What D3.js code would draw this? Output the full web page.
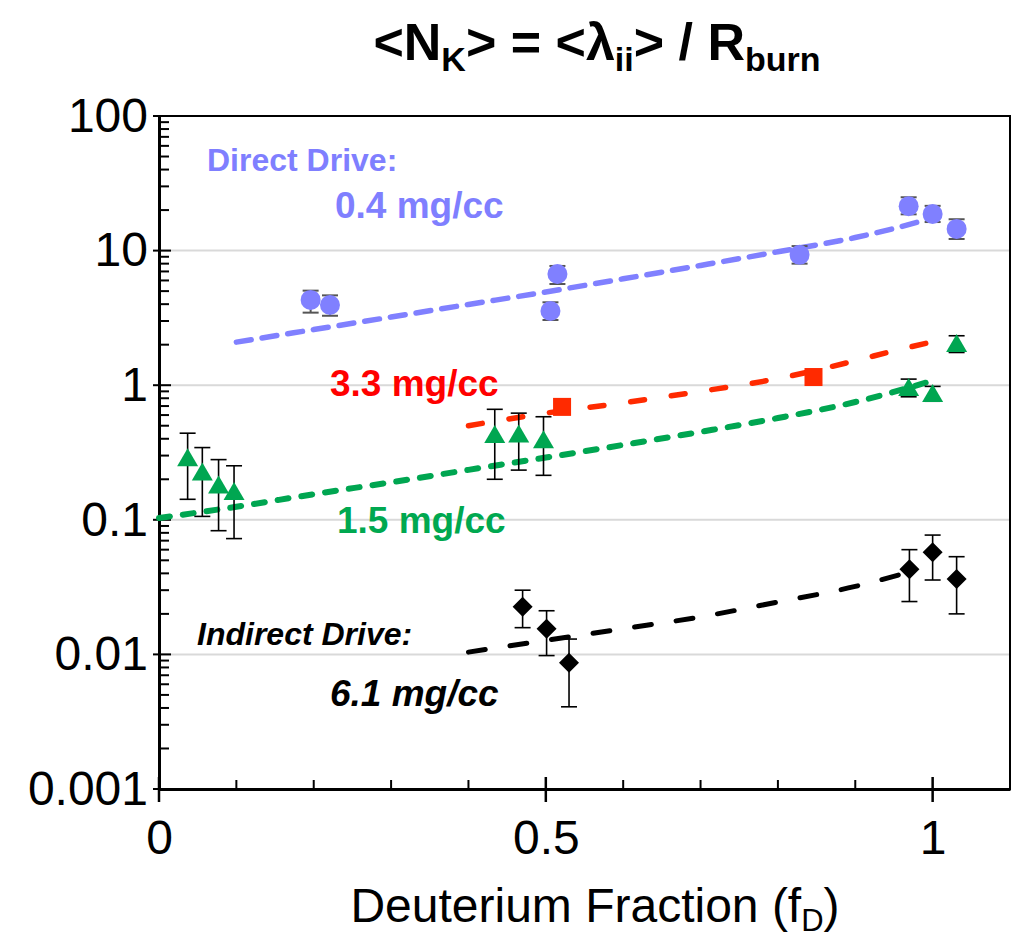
<!DOCTYPE html>
<html><head><meta charset="utf-8">
<script src="https://cdn.jsdelivr.net/npm/d3@7"></script>
<style>
html,body{margin:0;padding:0;background:#fff;}
svg{display:block;font-family:"Liberation Sans",Arial,sans-serif;}
</style></head>
<body>
<svg id="chart" width="1018" height="938"></svg>
<script>
// ---- data ----
const xTickValues = [0, 0.5, 1];
const xTickLabels = ["0", "0.5", "1"];
const yTickValues = [0.001, 0.01, 0.1, 1, 10, 100];
const yTickLabels = ["0.001", "0.01", "0.1", "1", "10", "100"];

// Direct drive 0.4 mg/cc (circles)
const ddX  = [0.196, 0.221, 0.506, 0.515, 0.828, 0.969, 1.000, 1.031];
const ddY  = [4.3, 3.94, 3.56, 6.7, 9.3, 21.4, 18.7, 14.5];
const ddHi = [5.04, 4.65, 4.13, 7.69, 10.8, 24.9, 21.5, 17.1];
const ddLo = [3.46, 3.28, 3.05, 5.65, 8.0, 18.6, 16.3, 12.2];

// 1.5 mg/cc (triangles)
const g15X  = [0.037, 0.056, 0.077, 0.097, 0.434, 0.465, 0.497, 0.969, 1.000, 1.031];
const g15Y  = [0.286, 0.225, 0.18, 0.161, 0.427, 0.43, 0.39, 0.953, 0.86, 2.02];
const g15Hi = [0.44, 0.344, 0.28, 0.252, 0.662, 0.62, 0.583, 1.11, 0.98, 2.33];
const g15Lo = [0.142, 0.106, 0.083, 0.0725, 0.2, 0.234, 0.214, 0.82, 0.76, 1.75];

// 3.3 mg/cc (squares)
const r33X = [0.521, 0.846];
const r33Y = [0.69, 1.15];

// Indirect drive 6.1 mg/cc (diamonds)
const idX  = [0.470, 0.501, 0.530, 0.970, 1.000, 1.031];
const idY  = [0.0226, 0.0155, 0.00867, 0.0429, 0.0573, 0.0363];
const idHi = [0.030, 0.0211, 0.013, 0.060, 0.077, 0.0532];
const idLo = [0.0158, 0.0098, 0.00408, 0.0247, 0.0357, 0.0200];

// model curves
const ddFitX = [0.1, 0.2, 0.3, 0.4, 0.5, 0.6, 0.7, 0.8, 0.9, 0.95, 1.0];
const ddFitY = [2.09, 2.59, 3.21, 3.98, 4.93, 6.17, 7.76, 9.8, 12.5, 14.6, 17.5];
const r33FitX = [0.4, 0.5, 0.6, 0.7, 0.8, 0.9, 0.95, 1.0];
const r33FitY = [0.5, 0.62, 0.74, 0.9, 1.12, 1.52, 1.8, 2.1];
const g15FitX = [0, 0.1, 0.2, 0.3, 0.4, 0.5, 0.6, 0.7, 0.8, 0.9, 1.0];
const g15FitY = [0.103, 0.125, 0.155, 0.19, 0.235, 0.29, 0.36, 0.45, 0.57, 0.75, 1.08];
const idFitX = [0.4, 0.5, 0.6, 0.7, 0.8, 0.9, 0.97];
const idFitY = [0.0104, 0.0127, 0.0155, 0.019, 0.0245, 0.032, 0.041];

// ---- chart ----
const L = 159, R = 1010, T = 116, B = 789;
const svg = d3.select("#chart");
const x = d3.scaleLinear().domain([0, 1.1]).range([L, R]);
const y = d3.scaleLog().domain([0.001, 100]).range([B, T]);

const blue = "#8080FF", red = "#FF2A00", green = "#00A651", black = "#000";

// gridlines
svg.append("g").selectAll("line").data([0.01, 0.1, 1, 10]).join("line")
  .attr("x1", L).attr("x2", R).attr("y1", d => y(d)).attr("y2", d => y(d))
  .attr("stroke", "#D9D9D9").attr("stroke-width", 2);

// frame
svg.append("rect").attr("x", L).attr("y", T).attr("width", R - L).attr("height", B - T)
  .attr("fill", "none").attr("stroke", "#000").attr("stroke-width", 2);

// y minor ticks
const yMinor = [];
for (let e = -3; e < 2; e++) for (let m = 2; m <= 9; m++) yMinor.push(m * Math.pow(10, e));
svg.append("g").selectAll("line").data(yMinor).join("line")
  .attr("x1", L).attr("x2", L + 10).attr("y1", d => y(d)).attr("y2", d => y(d))
  .attr("stroke", "#000").attr("stroke-width", 2);

// y axis
const yAxis = d3.axisLeft(y).tickValues(yTickValues)
  .tickFormat((d, i) => yTickLabels[i]).tickSize(0).tickPadding(11);
const ya = svg.append("g").attr("transform", `translate(${L},0)`).call(yAxis);
ya.select(".domain").attr("stroke-width", 3);
ya.selectAll("text").attr("font-size", 48).attr("fill", "#000")
  .attr("font-family", "Liberation Sans, Arial, sans-serif");
svg.append("g").selectAll("line").data(yTickValues).join("line")
  .attr("x1", L - 6).attr("x2", L + 12).attr("y1", d => y(d)).attr("y2", d => y(d))
  .attr("stroke", "#000").attr("stroke-width", 2);

// x minor ticks
const xMinor = d3.range(1, 11).map(i => i / 10).filter(v => Math.abs(v - 0.5) > 1e-9 && Math.abs(v - 1) > 1e-9);
svg.append("g").selectAll("line").data(xMinor).join("line")
  .attr("x1", d => x(d)).attr("x2", d => x(d)).attr("y1", B).attr("y2", B - 9)
  .attr("stroke", "#000").attr("stroke-width", 2);

// x axis
const xAxis = d3.axisBottom(x).tickValues(xTickValues)
  .tickFormat((d, i) => xTickLabels[i]).tickSize(0).tickPadding(31);
const xa = svg.append("g").attr("transform", `translate(0,${B})`).call(xAxis);
xa.select(".domain").attr("stroke-width", 3);
xa.selectAll("text").attr("font-size", 48).attr("fill", "#000")
  .attr("font-family", "Liberation Sans, Arial, sans-serif");
svg.append("g").selectAll("line").data(xTickValues).join("line")
  .attr("x1", d => x(d)).attr("x2", d => x(d)).attr("y1", B - 12).attr("y2", B + 13)
  .attr("stroke", "#000").attr("stroke-width", 2.5);

// axis title
const xt = svg.append("text").attr("x", 595).attr("y", 922).attr("text-anchor", "middle")
  .attr("font-size", 48).attr("fill", "#000");
xt.append("tspan").text("Deuterium Fraction (f");
xt.append("tspan").attr("font-size", 31).attr("dy", 9).text("D");
xt.append("tspan").attr("dy", -9).text(")");

// title
const tt = svg.append("text").attr("x", 597).attr("y", 60).attr("text-anchor", "middle")
  .attr("font-size", 52).attr("font-weight", "bold").attr("fill", "#000");
tt.append("tspan").text("<N");
tt.append("tspan").attr("font-size", 34).attr("dy", 11).text("K");
tt.append("tspan").attr("dy", -11).text("> = <λ");
tt.append("tspan").attr("font-size", 34).attr("dy", 11).text("ii");
tt.append("tspan").attr("dy", -11).text("> / R");
tt.append("tspan").attr("font-size", 34).attr("dy", 11).text("burn");

// fit lines
function fit(xs, ys, color, w, dash) {
  const pts = xs.map((v, i) => [v, ys[i]]);
  svg.append("path").datum(pts)
    .attr("d", d3.line().x(d => x(d[0])).y(d => y(d[1])).curve(d3.curveMonotoneX))
    .attr("fill", "none").attr("stroke", color).attr("stroke-width", w)
    .attr("stroke-dasharray", dash).attr("stroke-linecap", "round");
}
fit(ddFitX, ddFitY, blue, 5.5, "15,11");
fit(r33FitX, r33FitY, red, 5.5, "14,27");
fit(g15FitX, g15FitY, green, 6, "11,13");
fit(idFitX, idFitY, black, 5, "17,25");

// error bars
function errs(xs, lo, hi, color, w) {
  const g = svg.append("g").attr("stroke", color).attr("stroke-width", w);
  xs.forEach((v, i) => {
    g.append("line").attr("x1", x(v)).attr("x2", x(v)).attr("y1", y(lo[i])).attr("y2", y(hi[i]));
    [lo[i], hi[i]].forEach(e => g.append("line")
      .attr("x1", x(v) - 8).attr("x2", x(v) + 8).attr("y1", y(e)).attr("y2", y(e)));
  });
}
errs(ddX, ddLo, ddHi, "#555", 2);
errs(g15X, g15Lo, g15Hi, "#000", 1.6);
errs(idX, idLo, idHi, "#000", 1.6);

// markers
svg.append("g").selectAll("circle").data(ddX).join("circle")
  .attr("cx", d => x(d)).attr("cy", (d, i) => y(ddY[i])).attr("r", 10).attr("fill", blue);
svg.append("g").selectAll("path").data(g15X).join("path")
  .attr("transform", (d, i) => `translate(${x(d)},${y(g15Y[i])})`)
  .attr("d", "M0,-10 L10.5,8 L-10.5,8 Z").attr("fill", green);
svg.append("g").selectAll("rect").data(r33X).join("rect")
  .attr("x", d => x(d) - 9).attr("y", (d, i) => y(r33Y[i]) - 9)
  .attr("width", 18).attr("height", 18).attr("fill", red);
svg.append("g").selectAll("path").data(idX).join("path")
  .attr("transform", (d, i) => `translate(${x(d)},${y(idY[i])})`)
  .attr("d", "M0,-10 L10,0 L0,10 L-10,0 Z").attr("fill", black);

// annotations
function label(txt, xx, yy, color, size, italic) {
  svg.append("text").attr("x", xx).attr("y", yy).attr("font-size", size)
    .attr("font-weight", "bold").attr("font-style", italic ? "italic" : "normal")
    .attr("fill", color).text(txt);
}
label("Direct Drive:", 207, 171, "#7F7FFF", 32, false);
label("0.4 mg/cc", 335, 218, "#7F7FFF", 37, false);
label("3.3 mg/cc", 330, 396, "#FF0000", 37, false);
label("1.5 mg/cc", 337, 533, "#00A850", 37, false);
label("Indirect Drive:", 197, 645, "#000", 32, true);
label("6.1 mg/cc", 330, 706, "#000", 37, true);
</script>
</body></html>
